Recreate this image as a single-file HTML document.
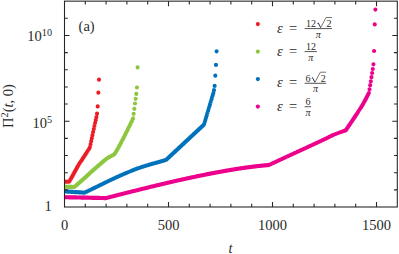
<!DOCTYPE html>
<html><head><meta charset="utf-8"><title>fig</title>
<style>
html,body{margin:0;padding:0;background:#fff;}
body{width:399px;height:254px;overflow:hidden;font-family:"Liberation Serif",serif;}
svg{display:block;}
</style></head><body>
<svg width="399" height="254" viewBox="0 0 399 254">
<rect x="0" y="0" width="399" height="254" fill="#fff"/>
<defs><clipPath id="c"><rect x="64.50" y="1.15" width="332.80" height="205.85"/></clipPath></defs>
<g clip-path="url(#c)">
<path d="M64.50 181.70h0M65.04 181.71h0M65.70 181.73h0M66.35 181.74h0M67.00 181.75h0M67.66 181.77h0M68.31 181.78h0M68.96 181.79h0M69.61 181.06h0M70.27 179.89h0M70.92 178.72h0M71.57 177.55h0M72.23 176.38h0M72.88 175.21h0M73.53 174.04h0M74.19 172.85h0M74.84 171.65h0M75.49 170.46h0M76.14 169.27h0M76.80 168.10h0M77.45 166.94h0M78.10 165.83h0M78.76 164.74h0M79.41 163.70h0M80.06 162.70h0M80.72 161.71h0M81.37 160.74h0M82.02 159.77h0M82.67 158.80h0M83.33 157.80h0M83.98 156.80h0M84.63 155.80h0M85.29 154.80h0M85.94 153.80h0M86.59 152.80h0M87.25 151.79h0M87.90 150.78h0M88.55 149.78h0M89.20 148.77h0M89.86 147.27h0M90.51 144.23h0M91.16 141.20h0M91.82 138.17h0M92.47 135.13h0M93.12 132.10h0M93.78 129.07h0M94.43 126.03h0M95.08 123.00h0M95.73 120.20h0M96.39 117.20h0M97.04 113.70h0M97.69 106.40h0M98.35 92.70h0M99.00 79.70h0" fill="none" stroke="#ED1C24" stroke-width="4.16" stroke-linecap="round"/>
<path d="M64.50 186.70h0M65.12 186.72h0M65.77 186.74h0M66.42 186.76h0M67.08 186.78h0M67.73 186.80h0M68.38 186.82h0M69.03 186.84h0M69.69 186.86h0M70.34 186.88h0M70.99 186.90h0M71.65 186.92h0M72.30 186.94h0M72.95 186.96h0M73.61 186.98h0M74.26 187.00h0M74.91 186.55h0M75.56 185.99h0M76.22 185.42h0M76.87 184.84h0M77.52 184.27h0M78.18 183.70h0M78.83 183.12h0M79.48 182.55h0M80.14 181.97h0M80.79 181.39h0M81.44 180.81h0M82.09 180.23h0M82.75 179.65h0M83.40 179.07h0M84.05 178.49h0M84.71 177.90h0M85.36 177.32h0M86.01 176.72h0M86.67 176.13h0M87.32 175.53h0M87.97 174.93h0M88.62 174.32h0M89.28 173.72h0M89.93 173.12h0M90.58 172.51h0M91.24 171.91h0M91.89 171.31h0M92.54 170.72h0M93.20 170.13h0M93.85 169.54h0M94.50 168.96h0M95.15 168.39h0M95.81 167.82h0M96.46 167.26h0M97.11 166.72h0M97.77 166.17h0M98.42 165.63h0M99.07 165.09h0M99.73 164.54h0M100.38 163.97h0M101.03 163.39h0M101.68 162.81h0M102.34 162.22h0M102.99 161.64h0M103.64 161.06h0M104.30 160.51h0M104.95 159.97h0M105.60 159.46h0M106.26 158.97h0M106.91 158.53h0M107.56 158.10h0M108.21 157.69h0M108.87 157.28h0M109.52 156.89h0M110.17 156.51h0M110.83 156.15h0M111.48 155.80h0M112.13 155.47h0M112.79 155.16h0M113.44 154.86h0M114.09 154.58h0M114.74 153.79h0M115.40 152.72h0M116.05 151.64h0M116.70 150.54h0M117.36 149.43h0M118.01 148.29h0M118.66 147.13h0M119.32 145.95h0M119.97 144.75h0M120.62 143.53h0M121.28 142.29h0M121.93 141.04h0M122.58 139.78h0M123.23 138.52h0M123.89 137.25h0M124.54 135.96h0M125.19 134.67h0M125.85 133.37h0M126.50 132.05h0M127.15 130.73h0M127.81 129.41h0M128.46 128.09h0M129.11 126.77h0M129.76 125.48h0M130.42 124.17h0M131.07 122.84h0M131.72 121.46h0M132.38 120.01h0M133.03 118.40h0M133.68 113.80h0M134.34 108.80h0M134.99 103.50h0M135.64 98.80h0M136.29 93.90h0M136.95 87.50h0M137.60 67.40h0" fill="none" stroke="#8DC63F" stroke-width="4.16" stroke-linecap="round"/>
<path d="M64.50 191.40h0M65.10 191.44h0M65.76 191.48h0M66.41 191.52h0M67.06 191.57h0M67.72 191.61h0M68.37 191.65h0M69.02 191.69h0M69.68 191.74h0M70.33 191.78h0M70.98 191.82h0M71.63 191.86h0M72.29 191.91h0M72.94 191.95h0M73.59 191.99h0M74.25 192.03h0M74.90 192.08h0M75.55 192.12h0M76.21 192.16h0M76.86 192.20h0M77.51 192.25h0M78.16 192.29h0M78.82 192.33h0M79.47 192.37h0M80.12 192.42h0M80.78 192.46h0M81.43 192.50h0M82.08 192.54h0M82.74 192.59h0M83.39 192.63h0M84.04 192.67h0M84.69 192.61h0M85.35 192.29h0M86.00 191.98h0M86.65 191.67h0M87.31 191.35h0M87.96 191.04h0M88.61 190.72h0M89.27 190.41h0M89.92 190.09h0M90.57 189.78h0M91.22 189.46h0M91.88 189.14h0M92.53 188.83h0M93.18 188.51h0M93.84 188.20h0M94.49 187.88h0M95.14 187.56h0M95.80 187.25h0M96.45 186.93h0M97.10 186.61h0M97.75 186.29h0M98.41 185.98h0M99.06 185.66h0M99.71 185.34h0M100.37 185.02h0M101.02 184.70h0M101.67 184.38h0M102.33 184.06h0M102.98 183.74h0M103.63 183.41h0M104.28 183.09h0M104.94 182.77h0M105.59 182.44h0M106.24 182.12h0M106.90 181.80h0M107.55 181.48h0M108.20 181.16h0M108.86 180.85h0M109.51 180.53h0M110.16 180.22h0M110.81 179.91h0M111.47 179.61h0M112.12 179.30h0M112.77 178.99h0M113.43 178.69h0M114.08 178.39h0M114.73 178.09h0M115.39 177.79h0M116.04 177.49h0M116.69 177.19h0M117.34 176.89h0M118.00 176.60h0M118.65 176.30h0M119.30 176.01h0M119.96 175.72h0M120.61 175.43h0M121.26 175.14h0M121.92 174.85h0M122.57 174.56h0M123.22 174.27h0M123.87 173.99h0M124.53 173.70h0M125.18 173.42h0M125.83 173.14h0M126.49 172.86h0M127.14 172.58h0M127.79 172.31h0M128.45 172.04h0M129.10 171.77h0M129.75 171.50h0M130.40 171.24h0M131.06 170.97h0M131.71 170.71h0M132.36 170.45h0M133.02 170.19h0M133.67 169.94h0M134.32 169.68h0M134.98 169.43h0M135.63 169.18h0M136.28 168.94h0M136.93 168.69h0M137.59 168.45h0M138.24 168.22h0M138.89 167.98h0M139.55 167.76h0M140.20 167.53h0M140.85 167.31h0M141.51 167.10h0M142.16 166.88h0M142.81 166.67h0M143.46 166.47h0M144.12 166.26h0M144.77 166.06h0M145.42 165.86h0M146.08 165.66h0M146.73 165.47h0M147.38 165.27h0M148.04 165.08h0M148.69 164.89h0M149.34 164.69h0M149.99 164.50h0M150.65 164.31h0M151.30 164.12h0M151.95 163.94h0M152.61 163.75h0M153.26 163.57h0M153.91 163.39h0M154.57 163.21h0M155.22 163.03h0M155.87 162.85h0M156.52 162.67h0M157.18 162.49h0M157.83 162.31h0M158.48 162.13h0M159.14 161.95h0M159.79 161.76h0M160.44 161.57h0M161.10 161.38h0M161.75 161.19h0M162.40 161.00h0M163.05 160.81h0M163.71 160.62h0M164.36 160.42h0M165.01 160.23h0M165.67 160.03h0M166.32 159.70h0M166.97 159.09h0M167.63 158.48h0M168.28 157.87h0M168.93 157.26h0M169.58 156.66h0M170.24 156.05h0M170.89 155.44h0M171.54 154.83h0M172.20 154.22h0M172.85 153.61h0M173.50 153.01h0M174.16 152.40h0M174.81 151.79h0M175.46 151.18h0M176.11 150.57h0M176.77 149.96h0M177.42 149.36h0M178.07 148.75h0M178.73 148.14h0M179.38 147.53h0M180.03 146.92h0M180.69 146.32h0M181.34 145.71h0M181.99 145.10h0M182.64 144.49h0M183.30 143.88h0M183.95 143.27h0M184.60 142.67h0M185.26 142.06h0M185.91 141.45h0M186.56 140.84h0M187.22 140.23h0M187.87 139.63h0M188.52 139.02h0M189.17 138.41h0M189.83 137.80h0M190.48 137.19h0M191.13 136.58h0M191.79 135.98h0M192.44 135.37h0M193.09 134.76h0M193.75 134.15h0M194.40 133.54h0M195.05 132.94h0M195.70 132.33h0M196.36 131.72h0M197.01 131.11h0M197.66 130.50h0M198.32 129.89h0M198.97 129.29h0M199.62 128.68h0M200.28 128.07h0M200.93 127.46h0M201.58 126.85h0M202.23 126.24h0M202.89 125.64h0M203.54 125.03h0M204.19 123.95h0M204.85 121.75h0M205.50 119.56h0M206.15 117.36h0M206.81 115.16h0M207.46 112.97h0M208.11 110.77h0M208.76 108.58h0M209.42 106.38h0M210.07 104.18h0M210.72 101.99h0M211.38 99.79h0M212.03 97.59h0M212.68 95.40h0M213.34 93.20h0M213.99 90.20h0M214.64 85.90h0M215.29 75.70h0M215.95 64.90h0M216.60 51.30h0" fill="none" stroke="#0072BC" stroke-width="4.16" stroke-linecap="round"/>
<path d="M64.50 197.20h0M64.57 197.20h0M65.22 197.22h0M65.88 197.23h0M66.53 197.24h0M67.18 197.26h0M67.84 197.27h0M68.49 197.29h0M69.14 197.30h0M69.80 197.31h0M70.45 197.33h0M71.10 197.34h0M71.75 197.36h0M72.41 197.37h0M73.06 197.39h0M73.71 197.40h0M74.37 197.41h0M75.02 197.43h0M75.67 197.44h0M76.33 197.46h0M76.98 197.47h0M77.63 197.48h0M78.28 197.50h0M78.94 197.51h0M79.59 197.53h0M80.24 197.54h0M80.90 197.56h0M81.55 197.57h0M82.20 197.58h0M82.86 197.60h0M83.51 197.61h0M84.16 197.63h0M84.81 197.64h0M85.47 197.65h0M86.12 197.67h0M86.77 197.68h0M87.43 197.70h0M88.08 197.71h0M88.73 197.73h0M89.39 197.74h0M90.04 197.75h0M90.69 197.77h0M91.34 197.78h0M92.00 197.80h0M92.65 197.81h0M93.30 197.82h0M93.96 197.84h0M94.61 197.85h0M95.26 197.87h0M95.92 197.88h0M96.57 197.90h0M97.22 197.91h0M97.87 197.92h0M98.53 197.94h0M99.18 197.95h0M99.83 197.97h0M100.49 197.98h0M101.14 197.99h0M101.79 198.01h0M102.45 198.02h0M103.10 198.04h0M103.75 198.05h0M104.40 198.07h0M105.06 198.08h0M105.71 198.09h0M106.36 198.01h0M107.02 197.84h0M107.67 197.67h0M108.32 197.50h0M108.98 197.33h0M109.63 197.16h0M110.28 196.99h0M110.93 196.82h0M111.59 196.65h0M112.24 196.48h0M112.89 196.32h0M113.55 196.15h0M114.20 195.98h0M114.85 195.81h0M115.51 195.65h0M116.16 195.48h0M116.81 195.31h0M117.46 195.14h0M118.12 194.98h0M118.77 194.81h0M119.42 194.64h0M120.08 194.48h0M120.73 194.31h0M121.38 194.15h0M122.04 193.98h0M122.69 193.82h0M123.34 193.65h0M123.99 193.49h0M124.65 193.32h0M125.30 193.16h0M125.95 192.99h0M126.61 192.83h0M127.26 192.66h0M127.91 192.50h0M128.57 192.33h0M129.22 192.17h0M129.87 192.01h0M130.52 191.84h0M131.18 191.68h0M131.83 191.52h0M132.48 191.36h0M133.14 191.19h0M133.79 191.03h0M134.44 190.87h0M135.10 190.71h0M135.75 190.55h0M136.40 190.39h0M137.05 190.22h0M137.71 190.06h0M138.36 189.90h0M139.01 189.74h0M139.67 189.58h0M140.32 189.42h0M140.97 189.26h0M141.63 189.10h0M142.28 188.94h0M142.93 188.78h0M143.58 188.62h0M144.24 188.46h0M144.89 188.30h0M145.54 188.14h0M146.20 187.98h0M146.85 187.82h0M147.50 187.66h0M148.16 187.50h0M148.81 187.34h0M149.46 187.18h0M150.11 187.02h0M150.77 186.86h0M151.42 186.70h0M152.07 186.54h0M152.73 186.38h0M153.38 186.22h0M154.03 186.06h0M154.69 185.90h0M155.34 185.75h0M155.99 185.59h0M156.64 185.43h0M157.30 185.27h0M157.95 185.11h0M158.60 184.96h0M159.26 184.80h0M159.91 184.64h0M160.56 184.49h0M161.22 184.33h0M161.87 184.17h0M162.52 184.02h0M163.17 183.86h0M163.83 183.71h0M164.48 183.55h0M165.13 183.40h0M165.79 183.24h0M166.44 183.09h0M167.09 182.94h0M167.75 182.78h0M168.40 182.63h0M169.05 182.48h0M169.70 182.33h0M170.36 182.18h0M171.01 182.02h0M171.66 181.87h0M172.32 181.72h0M172.97 181.58h0M173.62 181.43h0M174.28 181.28h0M174.93 181.13h0M175.58 180.98h0M176.23 180.84h0M176.89 180.69h0M177.54 180.54h0M178.19 180.40h0M178.85 180.25h0M179.50 180.11h0M180.15 179.97h0M180.81 179.82h0M181.46 179.68h0M182.11 179.54h0M182.76 179.39h0M183.42 179.25h0M184.07 179.11h0M184.72 178.97h0M185.38 178.83h0M186.03 178.68h0M186.68 178.54h0M187.34 178.40h0M187.99 178.26h0M188.64 178.12h0M189.29 177.98h0M189.95 177.84h0M190.60 177.70h0M191.25 177.56h0M191.91 177.42h0M192.56 177.28h0M193.21 177.14h0M193.87 177.00h0M194.52 176.86h0M195.17 176.73h0M195.82 176.59h0M196.48 176.45h0M197.13 176.32h0M197.78 176.18h0M198.44 176.04h0M199.09 175.91h0M199.74 175.77h0M200.40 175.64h0M201.05 175.50h0M201.70 175.37h0M202.35 175.24h0M203.01 175.10h0M203.66 174.97h0M204.31 174.84h0M204.97 174.71h0M205.62 174.58h0M206.27 174.45h0M206.93 174.32h0M207.58 174.19h0M208.23 174.06h0M208.88 173.93h0M209.54 173.80h0M210.19 173.68h0M210.84 173.55h0M211.50 173.43h0M212.15 173.30h0M212.80 173.18h0M213.46 173.05h0M214.11 172.93h0M214.76 172.81h0M215.41 172.69h0M216.07 172.56h0M216.72 172.44h0M217.37 172.32h0M218.03 172.21h0M218.68 172.09h0M219.33 171.97h0M219.99 171.85h0M220.64 171.74h0M221.29 171.62h0M221.94 171.50h0M222.60 171.39h0M223.25 171.27h0M223.90 171.16h0M224.56 171.04h0M225.21 170.93h0M225.86 170.81h0M226.52 170.70h0M227.17 170.58h0M227.82 170.47h0M228.47 170.36h0M229.13 170.25h0M229.78 170.13h0M230.43 170.02h0M231.09 169.91h0M231.74 169.80h0M232.39 169.69h0M233.05 169.58h0M233.70 169.47h0M234.35 169.36h0M235.00 169.26h0M235.66 169.15h0M236.31 169.04h0M236.96 168.94h0M237.62 168.84h0M238.27 168.73h0M238.92 168.63h0M239.58 168.53h0M240.23 168.43h0M240.88 168.33h0M241.53 168.23h0M242.19 168.13h0M242.84 168.03h0M243.49 167.94h0M244.15 167.84h0M244.80 167.75h0M245.45 167.66h0M246.11 167.57h0M246.76 167.48h0M247.41 167.39h0M248.06 167.30h0M248.72 167.22h0M249.37 167.13h0M250.02 167.05h0M250.68 166.96h0M251.33 166.88h0M251.98 166.80h0M252.64 166.72h0M253.29 166.64h0M253.94 166.56h0M254.59 166.49h0M255.25 166.41h0M255.90 166.33h0M256.55 166.26h0M257.21 166.18h0M257.86 166.11h0M258.51 166.04h0M259.17 165.97h0M259.82 165.90h0M260.47 165.83h0M261.12 165.76h0M261.78 165.69h0M262.43 165.62h0M263.08 165.56h0M263.74 165.49h0M264.39 165.43h0M265.04 165.36h0M265.70 165.30h0M266.35 165.24h0M267.00 165.18h0M267.65 165.12h0M268.31 165.06h0M268.96 165.00h0M269.61 164.71h0M270.27 164.40h0M270.92 164.10h0M271.57 163.79h0M272.23 163.49h0M272.88 163.18h0M273.53 162.87h0M274.18 162.57h0M274.84 162.26h0M275.49 161.96h0M276.14 161.65h0M276.80 161.34h0M277.45 161.04h0M278.10 160.73h0M278.76 160.43h0M279.41 160.12h0M280.06 159.82h0M280.71 159.52h0M281.37 159.21h0M282.02 158.91h0M282.67 158.60h0M283.33 158.30h0M283.98 157.99h0M284.63 157.69h0M285.29 157.39h0M285.94 157.08h0M286.59 156.78h0M287.24 156.48h0M287.90 156.17h0M288.55 155.87h0M289.20 155.57h0M289.86 155.27h0M290.51 154.96h0M291.16 154.66h0M291.82 154.36h0M292.47 154.06h0M293.12 153.76h0M293.77 153.46h0M294.43 153.16h0M295.08 152.86h0M295.73 152.56h0M296.39 152.26h0M297.04 151.96h0M297.69 151.66h0M298.35 151.36h0M299.00 151.06h0M299.65 150.76h0M300.30 150.46h0M300.96 150.16h0M301.61 149.86h0M302.26 149.56h0M302.92 149.26h0M303.57 148.96h0M304.22 148.66h0M304.88 148.36h0M305.53 148.06h0M306.18 147.76h0M306.83 147.46h0M307.49 147.16h0M308.14 146.86h0M308.79 146.56h0M309.45 146.26h0M310.10 145.95h0M310.75 145.65h0M311.41 145.35h0M312.06 145.05h0M312.71 144.74h0M313.36 144.44h0M314.02 144.14h0M314.67 143.83h0M315.32 143.53h0M315.98 143.23h0M316.63 142.92h0M317.28 142.62h0M317.94 142.32h0M318.59 142.01h0M319.24 141.71h0M319.89 141.40h0M320.55 141.10h0M321.20 140.79h0M321.85 140.48h0M322.51 140.18h0M323.16 139.87h0M323.81 139.56h0M324.47 139.25h0M325.12 138.94h0M325.77 138.63h0M326.42 138.31h0M327.08 137.99h0M327.73 137.66h0M328.38 137.33h0M329.04 137.00h0M329.69 136.67h0M330.34 136.34h0M331.00 136.02h0M331.65 135.70h0M332.30 135.39h0M332.95 135.09h0M333.61 134.79h0M334.26 134.51h0M334.91 134.23h0M335.57 133.97h0M336.22 133.71h0M336.87 133.46h0M337.53 133.21h0M338.18 132.96h0M338.83 132.72h0M339.48 132.48h0M340.14 132.24h0M340.79 132.02h0M341.44 131.79h0M342.10 131.57h0M342.75 131.36h0M343.40 131.15h0M344.06 130.95h0M344.71 130.76h0M345.36 130.57h0M346.01 129.90h0M346.67 128.97h0M347.32 128.02h0M347.97 127.07h0M348.63 126.12h0M349.28 125.17h0M349.93 124.21h0M350.59 123.25h0M351.24 122.28h0M351.89 121.31h0M352.54 120.33h0M353.20 119.36h0M353.85 118.38h0M354.50 117.39h0M355.16 116.41h0M355.81 115.44h0M356.46 114.47h0M357.12 113.49h0M357.77 112.51h0M358.42 111.52h0M359.07 110.52h0M359.73 109.51h0M360.38 108.48h0M361.03 107.44h0M361.69 106.37h0M362.34 105.27h0M362.99 104.15h0M363.65 103.00h0M364.30 101.83h0M364.95 100.63h0M365.60 99.41h0M366.26 98.16h0M366.91 96.90h0M367.56 95.62h0M368.22 94.32h0M368.87 93.00h0M369.52 89.30h0M370.18 85.20h0M370.83 81.25h0M371.48 77.20h0M372.13 73.00h0M372.79 69.00h0M373.44 64.30h0M374.09 51.00h0M374.75 24.40h0M375.40 9.60h0" fill="none" stroke="#EC008C" stroke-width="4.16" stroke-linecap="round"/>
</g>
<g stroke="#262626" stroke-width="1.08" fill="none">
<rect x="64.50" y="1.15" width="332.80" height="205.85"/>
<path d="M85.30 207.00v-3.30M85.30 1.15v3.30M106.10 207.00v-3.30M106.10 1.15v3.30M126.90 207.00v-3.30M126.90 1.15v3.30M147.70 207.00v-3.30M147.70 1.15v3.30M168.50 207.00v-5.00M168.50 1.15v5.00M189.30 207.00v-3.30M189.30 1.15v3.30M210.10 207.00v-3.30M210.10 1.15v3.30M230.90 207.00v-3.30M230.90 1.15v3.30M251.70 207.00v-3.30M251.70 1.15v3.30M272.50 207.00v-5.00M272.50 1.15v5.00M293.30 207.00v-3.30M293.30 1.15v3.30M314.10 207.00v-3.30M314.10 1.15v3.30M334.90 207.00v-3.30M334.90 1.15v3.30M355.70 207.00v-3.30M355.70 1.15v3.30M376.50 207.00v-5.00M376.50 1.15v5.00M64.50 189.85h3.30M397.30 189.85h-3.30M64.50 172.69h3.30M397.30 172.69h-3.30M64.50 155.54h3.30M397.30 155.54h-3.30M64.50 138.38h3.30M397.30 138.38h-3.30M64.50 121.23h5.00M397.30 121.23h-5.00M64.50 104.08h3.30M397.30 104.08h-3.30M64.50 86.92h3.30M397.30 86.92h-3.30M64.50 69.77h3.30M397.30 69.77h-3.30M64.50 52.61h3.30M397.30 52.61h-3.30M64.50 35.46h5.00M397.30 35.46h-5.00M64.50 18.30h3.30M397.30 18.30h-3.30"/>
</g>
<g font-family="'Liberation Serif', serif" font-size="14.5" fill="#2a2a2a" stroke="none">
<text x="64.5" y="229.8" text-anchor="middle">0</text><text x="168.5" y="229.8" text-anchor="middle">500</text><text x="272.5" y="229.8" text-anchor="middle">1000</text><text x="376.5" y="229.8" text-anchor="middle">1500</text>
<text x="51.8" y="211.4" text-anchor="end">1</text><text x="52" y="128.1" text-anchor="end">10<tspan dy="-5.5" font-size="10.2">5</tspan></text><text x="52" y="41.3" text-anchor="end">10<tspan dy="-5" font-size="10.2">10</tspan></text>
<text x="230.6" y="252.7" text-anchor="middle" font-style="italic">t</text>
<text transform="translate(13.3,127.9) rotate(-90)">&#928;<tspan dy="-5.5" font-size="10.2">2</tspan><tspan dy="5.5">(</tspan><tspan font-style="italic">t</tspan>, 0)</text>
<text x="78.6" y="30.6">(a)</text>
</g>
<circle cx="257.85" cy="24.1" r="2.08" fill="#ED1C24"/>
<path d="M317.50 23.50l0.8 -0.55l2.3 4.6" stroke="#2a2a2a" stroke-width="0.95" fill="none" stroke-linejoin="miter"/>
<path d="M320.60 27.70l5.5 -10.2h5.85" stroke="#2a2a2a" stroke-width="0.65" fill="none" stroke-linejoin="miter"/>
<path d="M304.60 28.60h27.40" stroke="#2a2a2a" stroke-width="0.8" fill="none"/>
<circle cx="257.85" cy="51.6" r="2.08" fill="#8DC63F"/>
<path d="M304.60 51.60h12.25" stroke="#2a2a2a" stroke-width="0.8" fill="none"/>
<circle cx="257.85" cy="79.1" r="2.08" fill="#0072BC"/>
<path d="M311.75 78.20l0.8 -0.55l2.3 4.6" stroke="#2a2a2a" stroke-width="0.95" fill="none" stroke-linejoin="miter"/>
<path d="M314.85 82.40l5.5 -10.2h5.85" stroke="#2a2a2a" stroke-width="0.65" fill="none" stroke-linejoin="miter"/>
<path d="M304.60 83.30h21.65" stroke="#2a2a2a" stroke-width="0.8" fill="none"/>
<circle cx="257.85" cy="106.6" r="2.08" fill="#EC008C"/>
<path d="M304.60 106.70h6.50" stroke="#2a2a2a" stroke-width="0.8" fill="none"/>
<g font-family="'Liberation Serif', serif" fill="#2a2a2a" stroke="none">
<g font-size="14.5">
<text x="277" y="32.7" font-style="italic">&#949;</text><text x="293" y="32.7" text-anchor="middle">=</text>
<text x="277" y="55.7" font-style="italic">&#949;</text><text x="293" y="55.7" text-anchor="middle">=</text>
<text x="277" y="87.4" font-style="italic">&#949;</text><text x="293" y="87.4" text-anchor="middle">=</text>
<text x="277" y="110.8" font-style="italic">&#949;</text><text x="293" y="110.8" text-anchor="middle">=</text>
</g>
<g font-size="10">
<text x="305.9" y="26.95">12</text><text x="326.4" y="26.95">2</text><text x="318.3" y="37.5" text-anchor="middle" font-style="italic">&#960;</text>
<text x="305.9" y="49.95">12</text><text x="310.7" y="60.5" text-anchor="middle" font-style="italic">&#960;</text>
<text x="305.4" y="81.65">6</text><text x="320.7" y="81.65">2</text><text x="315.4" y="92.2" text-anchor="middle" font-style="italic">&#960;</text>
<text x="305.4" y="105.05">6</text><text x="307.9" y="115.6" text-anchor="middle" font-style="italic">&#960;</text>
</g>
</g>
</svg>
</body></html>
